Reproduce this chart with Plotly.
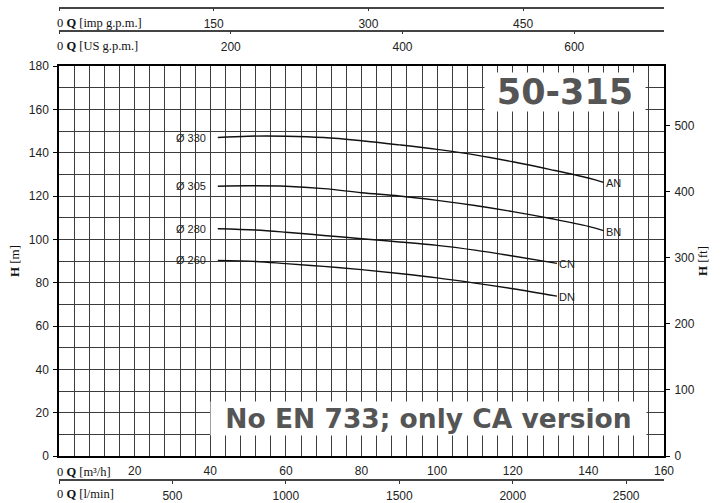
import plotly.graph_objects as go

# ---------------- data ----------------
q_an = [42, 50, 60, 70, 80, 90, 100, 110, 120, 130, 140, 144]
h_an = [147.0, 147.6, 147.6, 147.0, 145.5, 143.6, 141.5, 139.0, 135.8, 132.2, 128.3, 126.3]
q_bn = [42, 50, 60, 70, 80, 90, 100, 110, 120, 130, 140, 144]
h_bn = [124.5, 124.7, 124.5, 123.4, 121.5, 120.0, 118.0, 115.6, 112.8, 109.6, 106.0, 104.0]
q_cn = [42, 52, 60, 70, 80, 90, 100, 110, 120, 131.7]
h_cn = [104.9, 104.3, 103.3, 101.8, 100.3, 98.8, 97.2, 95.0, 92.3, 88.9]
q_dn = [42, 52, 60, 70, 80, 90, 100, 110, 120, 131.7]
h_dn = [90.3, 89.8, 88.8, 87.5, 86.0, 84.2, 82.2, 79.8, 77.2, 73.8]

curve_q = [q_an, q_bn, q_cn, q_dn]
curve_h = [h_an, h_bn, h_cn, h_dn]
diam_labels = ["Ø 330", "Ø 305", "Ø 280", "Ø 260"]
end_labels = ["AN", "BN", "CN", "DN"]

m3h_ticks = [0, 20, 40, 60, 80, 100, 120, 140, 160]
imp_ticks = [0, 150, 300, 450]
us_ticks = [0, 200, 400, 600]
lmin_ticks = [0, 500, 1000, 1500, 2000, 2500]
hm_ticks = [0, 20, 40, 60, 80, 100, 120, 140, 160, 180]
hft_ticks = [0, 100, 200, 300, 400, 500]

Q_MAX = 160
H_MAX = 180
IMP = 3.66615   # imp gpm per m3/h
USG = 4.40287   # US gpm per m3/h
LMIN = 16.6667  # l/min per m3/h
FT = 3.28084    # ft per m

# ---------------- figure ----------------
W, HGT = 724, 503
def py(px):
    return 1 - px / HGT

SANS = "Liberation Sans, Arial, sans-serif"
SERIF = "Liberation Serif, Times New Roman, serif"
GRID = "#3c3c3c"

fig = go.Figure()
for q, h in zip(curve_q, curve_h):
    fig.add_trace(go.Scatter(x=q, y=h, mode="lines", line=dict(color="#111", width=1.4, shape="spline"),
                             hoverinfo="skip", showlegend=False))
# helper traces so that secondary axes are drawn
fig.add_trace(go.Scatter(x=[], y=[], xaxis="x2", yaxis="y", showlegend=False))
fig.add_trace(go.Scatter(x=[], y=[], xaxis="x3", yaxis="y", showlegend=False))
fig.add_trace(go.Scatter(x=[], y=[], xaxis="x4", yaxis="y", showlegend=False))
fig.add_trace(go.Scatter(x=[], y=[], xaxis="x", yaxis="y2", showlegend=False))

tickfont = dict(family=SANS, size=12, color="#222")

def free_x(rng, vals, pos):
    return dict(overlaying="x", anchor="free", position=pos, side="bottom", range=rng,
                tickvals=vals, ticktext=[""] + [str(v) for v in vals[1:]],
                ticks="outside", ticklen=3, tickcolor="#333", tickwidth=1,
                showline=True, linecolor="#444", linewidth=1.5, showgrid=False, zeroline=False,
                tickfont=tickfont, ticklabelstandoff=2)

fig.update_layout(
    width=W, height=HGT,
    margin=dict(l=59, r=60, t=0, b=0, autoexpand=False),
    paper_bgcolor="white", plot_bgcolor="white",
    showlegend=False,
    xaxis=dict(domain=[0, 1], range=[0, Q_MAX], tickvals=m3h_ticks,
               ticktext=[""] + [str(v) for v in m3h_ticks[1:]],
               ticks="", showgrid=True, gridcolor=GRID, gridwidth=1,
               minor=dict(tick0=0, dtick=4, showgrid=True, gridcolor=GRID, gridwidth=1),
               showline=True, linecolor="black", linewidth=1.5, mirror=True, zeroline=False,
               tickfont=tickfont, ticklabelstandoff=3),
    yaxis=dict(domain=[py(456), py(66)], range=[0, H_MAX], tickvals=hm_ticks,
               ticks="outside", ticklen=4, tickcolor="black",
               showgrid=True, gridcolor=GRID, gridwidth=1,
               minor=dict(tick0=0, dtick=10, showgrid=True, gridcolor=GRID, gridwidth=1),
               showline=True, linecolor="black", linewidth=1.5, mirror=True, zeroline=False,
               tickfont=tickfont, ticklabelstandoff=2,
               title=dict(text="<b>H</b> [m]", font=dict(family=SERIF, size=13, color="#111"), standoff=6)),
    yaxis2=dict(overlaying="y", anchor="x", side="right", range=[0, H_MAX * FT], tickvals=hft_ticks,
                ticks="outside", ticklen=5, tickcolor="black", showgrid=False, zeroline=False,
                showline=False, tickfont=tickfont, ticklabelstandoff=2,
                title=dict(text="<b>H</b> [ft]", font=dict(family=SERIF, size=13, color="#111"), standoff=4)),
    xaxis2=free_x([0, Q_MAX * IMP], imp_ticks, py(7.5)),
    xaxis3=free_x([0, Q_MAX * USG], us_ticks, py(30.5)),
    xaxis4=free_x([0, Q_MAX * LMIN], lmin_ticks, py(480)),
)

ann = []
serif_font = dict(family=SERIF, size=12.5, color="#111")
for txt, ypx in [("0 <b>Q</b> [imp g.p.m.]", 23), ("0 <b>Q</b> [US g.p.m.]", 46),
                 ("0 <b>Q</b> [m³/h]", 472), ("0 <b>Q</b> [l/min]", 494)]:
    ann.append(dict(xref="paper", yref="paper", x=0, y=py(ypx), text=txt, showarrow=False,
                    xanchor="left", yanchor="middle", xshift=-4, font=serif_font))

lab_font = dict(family=SANS, size=11, color="#222")
for q, h, dl, el in zip(curve_q, curve_h, diam_labels, end_labels):
    ann.append(dict(xref="x", yref="y", x=q[0], y=h[0], text=dl, showarrow=False,
                    xanchor="right", yanchor="middle", xshift=-10, font=lab_font))
    ann.append(dict(xref="x", yref="y", x=q[-1], y=h[-1], text=el, showarrow=False,
                    xanchor="left", yanchor="middle", xshift=0, yshift=-1, font=lab_font))

# model title box
ann.append(dict(xref="paper", yref="paper", x=(646 - 59) / 605, y=py(92), text="<b>50-315</b>",
                showarrow=False, xanchor="right", yanchor="middle", bgcolor="white",
                width=158, height=36, align="center",
                font=dict(family="DejaVu Sans, sans-serif", size=35, color="#555")))
# note box
ann.append(dict(xref="paper", yref="paper", x=(210 - 59) / 605, y=py(418.5),
                text="<b>No EN 733; only CA version</b>",
                showarrow=False, xanchor="left", yanchor="middle", bgcolor="white",
                width=433, height=31, align="center",
                font=dict(family="DejaVu Sans, sans-serif", size=26.5, color="#555")))

fig.update_layout(annotations=ann)
fig.write_html("out.html", config={"displayModeBar": False},
               post_script="document.body.style.margin='0';document.body.style.padding='0';")
